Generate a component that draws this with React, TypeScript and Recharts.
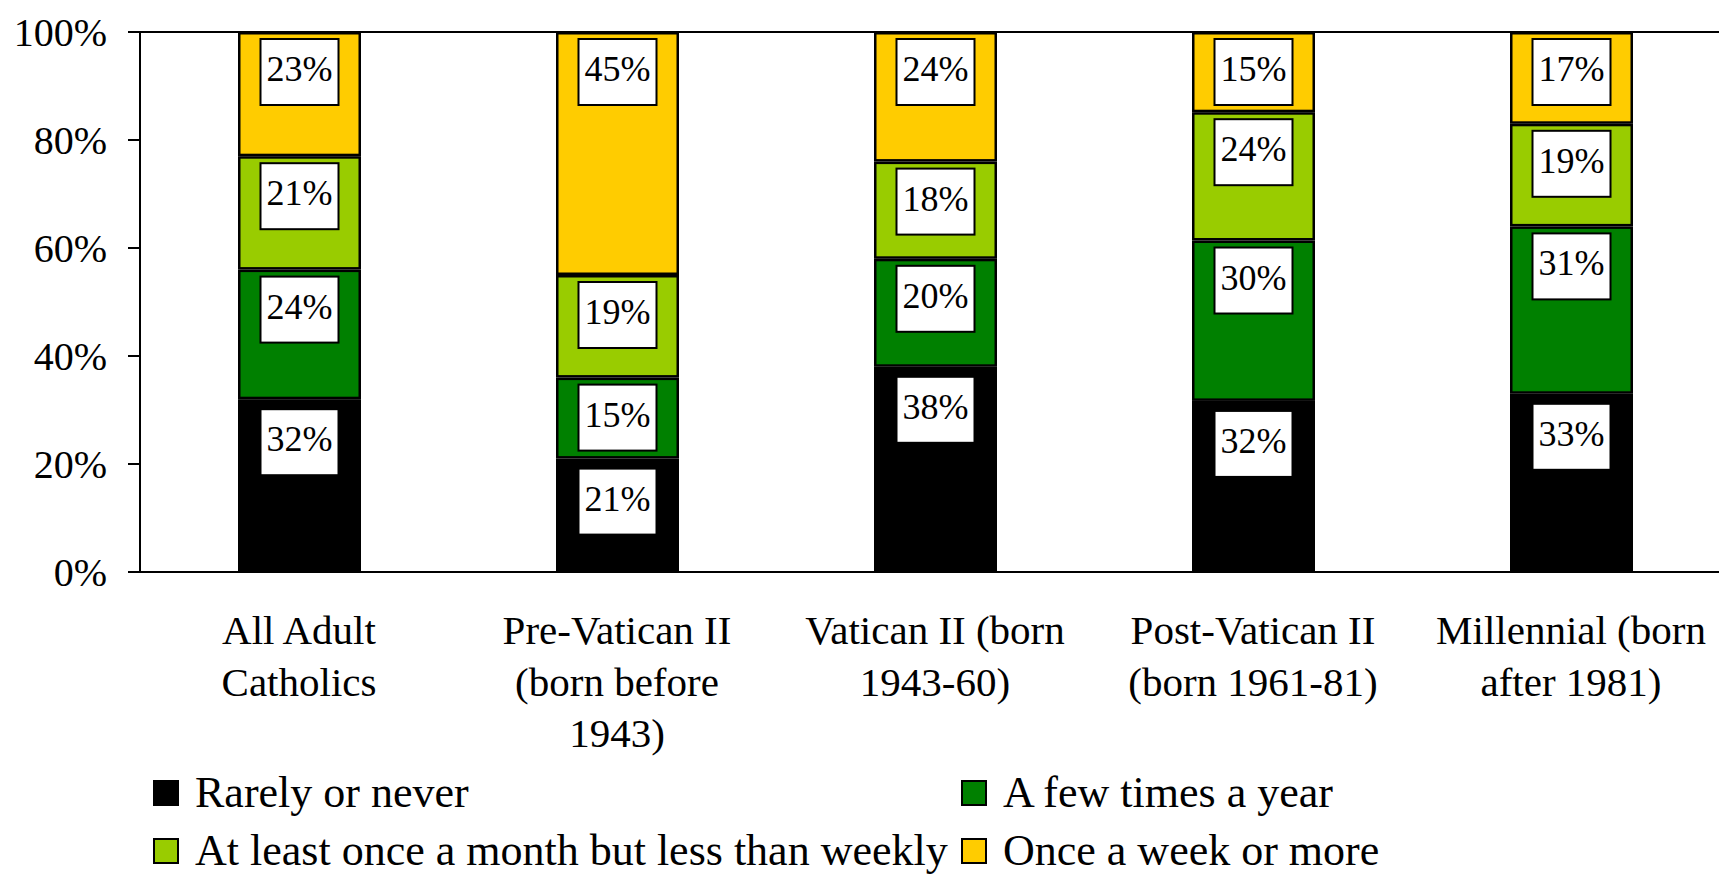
import React from "react";
import { BarChart, Bar, XAxis, YAxis, LabelList, ReferenceLine } from "recharts";

const categories = [
  "All Adult\nCatholics",
  "Pre-Vatican II\n(born before\n1943)",
  "Vatican II (born\n1943-60)",
  "Post-Vatican II\n(born 1961-81)",
  "Millennial (born\nafter 1981)",
];
const rarelyOrNever = [32, 21, 38, 32, 33];
const fewTimesAYear = [24, 15, 20, 30, 31];
const monthlyNotWeekly = [21, 19, 18, 24, 19];
const weeklyOrMore = [23, 45, 24, 15, 17];
const yTicks = [0, 0.2, 0.4, 0.6, 0.8, 1];
const separatorTicks = [0, 1, 2, 3, 4, 5];

const series = [
  { key: "rarely", name: "Rarely or never", color: "#000000", values: rarelyOrNever, labelGap: 9 },
  { key: "few", name: "A few times a year", color: "#008000", values: fewTimesAYear, labelGap: 6 },
  { key: "monthly", name: "At least once a month but less than weekly", color: "#99CC00", values: monthlyNotWeekly, labelGap: 6 },
  { key: "weekly", name: "Once a week or more", color: "#FFCC00", values: weeklyOrMore, labelGap: 6 },
];

const data = categories.map((name, i) => {
  const row: Record<string, any> = { name };
  series.forEach((s) => (row[s.key] = s.values[i]));
  return row;
});

const FONT = '"Liberation Serif", "Times New Roman", serif';

const InsetBar = (props: any) => {
  const { x, y, width, height, fill } = props;
  const sw = 2.5;
  if (!width || !height) return null;
  return (
    <rect
      x={x + sw / 2}
      y={y + sw / 2}
      width={Math.max(0, width - sw)}
      height={Math.max(0, height - sw)}
      fill={fill}
      stroke="#000"
      strokeWidth={sw}
    />
  );
};

const makeBoxLabel = (gap: number) => (props: any) => {
  const { x, y, width, value } = props;
  const cx = Number(x) + Number(width) / 2;
  const top = Number(y) + gap + 1;
  return (
    <g>
      <rect x={cx - 39} y={top} width={78} height={66} fill="#fff" stroke="#000" strokeWidth={2} />
      <text
        x={cx}
        y={top + 30}
        textAnchor="middle"
        dominantBaseline="central"
        fontSize={36}
        fontFamily={FONT}
        fill="#000"
      >
        {`${value}%`}
      </text>
    </g>
  );
};

const CategoryTick = (props: any) => {
  const { x, y, payload } = props;
  const lines = String(payload.value).split("\n");
  return (
    <g>
      {lines.map((line, i) => (
        <text
          key={i}
          x={x}
          y={y + 58.4 + i * 51.5}
          textAnchor="middle"
          dominantBaseline="central"
          fontSize={41}
          fontFamily={FONT}
          fill="#000"
        >
          {line}
        </text>
      ))}
    </g>
  );
};

const legendPos = [
  { left: 153, top: 793 },
  { left: 961, top: 793 },
  { left: 153, top: 851 },
  { left: 961, top: 851 },
];

export default function App() {
  return (
    <div
      style={{
        position: "fixed",
        left: 0,
        top: 0,
        width: 1719,
        height: 876,
        overflow: "hidden",
        background: "#fff",
      }}
    >
      <BarChart
        width={1740}
        height={876}
        data={data}
        stackOffset="expand"
        barSize={123}
        margin={{ top: 32, right: 10, bottom: 4, left: 0 }}
      >
        <XAxis
          xAxisId="sep"
          type="number"
          domain={[0, 5]}
          ticks={separatorTicks}
          interval={0}
          allowDataOverflow
          axisLine={false}
          tickLine={{ stroke: "#000", strokeWidth: 2 }}
          tickSize={12}
          tick={() => <g />}
          height={0}
        />
        <XAxis
          dataKey="name"
          interval={0}
          height={300}
          tickLine={false}
          tickSize={0}
          tickMargin={0}
          axisLine={{ stroke: "#000", strokeWidth: 2 }}
          tick={<CategoryTick />}
        />
        <YAxis
          type="number"
          domain={[0, 1]}
          ticks={yTicks}
          interval={0}
          allowDataOverflow
          width={140}
          tickSize={12}
          tickMargin={21}
          axisLine={{ stroke: "#000", strokeWidth: 2 }}
          tickLine={{ stroke: "#000", strokeWidth: 2 }}
          tick={{ fill: "#000", fontSize: 40, fontFamily: FONT }}
          tickFormatter={(v: number) => `${Math.round(v * 100)}%`}
        />
        {series.map((s) => (
          <Bar
            key={s.key}
            dataKey={s.key}
            name={s.name}
            stackId="a"
            fill={s.color}
            shape={<InsetBar />}
            isAnimationActive={false}
          >
            <LabelList dataKey={s.key} content={makeBoxLabel(s.labelGap)} />
          </Bar>
        ))}
        <ReferenceLine y={1} stroke="#000" strokeWidth={2} />
      </BarChart>
      {series.map((s, i) => (
        <div
          key={s.key}
          style={{
            position: "absolute",
            left: legendPos[i].left,
            top: legendPos[i].top - 22,
            height: 44,
            display: "flex",
            alignItems: "center",
            whiteSpace: "nowrap",
            fontFamily: FONT,
            fontSize: 44,
            lineHeight: 1,
            color: "#000",
          }}
        >
          <span
            style={{
              display: "inline-block",
              width: 22,
              height: 22,
              background: s.color,
              border: "2px solid #000",
              marginRight: 16,
            }}
          />
          <span style={{ lineHeight: 1 }}>{s.name}</span>
        </div>
      ))}
    </div>
  );
}
